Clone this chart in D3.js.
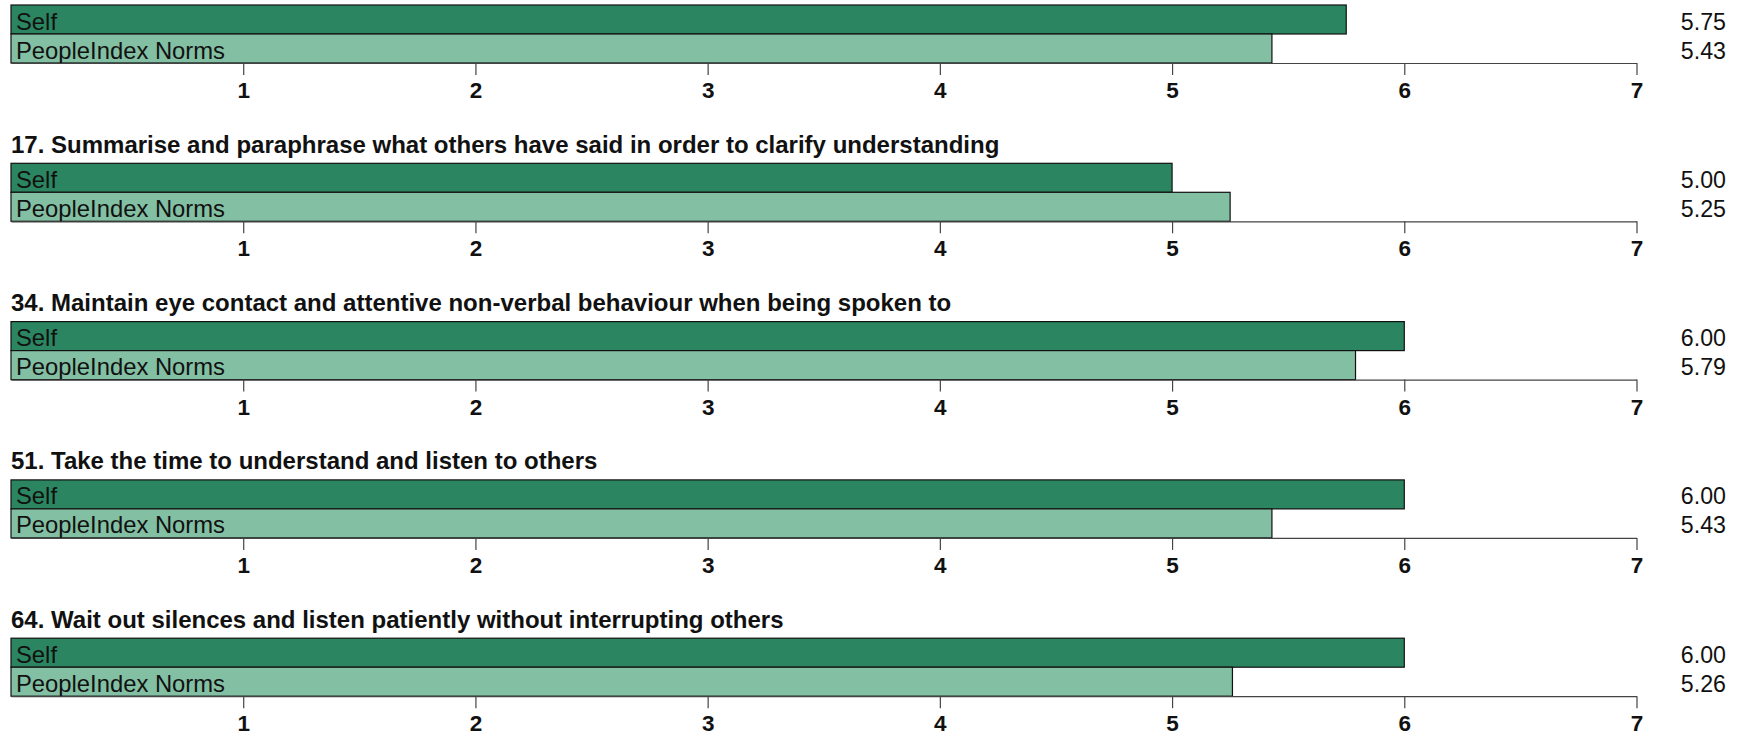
<!DOCTYPE html>
<html>
<head>
<meta charset="utf-8">
<script src="https://cdn.jsdelivr.net/npm/d3@7"></script>
<style>
  html, body { margin: 0; padding: 0; background: #fff; }
  svg { display: block; }
  text { font-family: "Liberation Sans", Arial, Helvetica, sans-serif; }
</style>
</head>
<body>
<svg id="chart" width="1744" height="737"></svg>
<script>
// Item questions (the first block's heading sits above the visible area)
const questions = [
  null,
  "17. Summarise and paraphrase what others have said in order to clarify understanding",
  "34. Maintain eye contact and attentive non-verbal behaviour when being spoken to",
  "51. Take the time to understand and listen to others",
  "64. Wait out silences and listen patiently without interrupting others"
];
const seriesNames = ["Self", "PeopleIndex Norms"];
const selfScores  = [5.75, 5.00, 6.00, 6.00, 6.00];
const normScores  = [5.43, 5.25, 5.79, 5.43, 5.26];
const tickValues  = [1, 2, 3, 4, 5, 6, 7];

const colors = { "Self": "#2b8560", "PeopleIndex Norms": "#82bfa3" };

const svg = d3.select("#chart");

const x = d3.scaleLinear().domain([0, 7]).range([11, 1636.5]);
const panelY = d3.scaleLinear().domain([0, 1]).range([5, 163.3]);
const band = d3.scaleBand().domain(seriesNames).range([0, 58]).padding(0);

const data = questions.map((q, i) => ({
  title: q,
  rows: [
    { name: "Self", value: selfScores[i] },
    { name: "PeopleIndex Norms", value: normScores[i] }
  ]
}));

const panels = svg.selectAll("g.panel")
  .data(data)
  .join("g")
  .attr("class", "panel")
  .attr("transform", (d, i) => `translate(0,${panelY(i)})`);

// Question heading
panels.filter(d => d.title)
  .append("text")
  .attr("x", 11)
  .attr("y", -10.5)
  .attr("font-size", 24)
  .attr("font-weight", "bold")
  .attr("fill", "#111")
  .text(d => d.title);

// Bars
panels.selectAll("rect.bar")
  .data(d => d.rows)
  .join("rect")
  .attr("class", "bar")
  .attr("x", x(0))
  .attr("y", r => band(r.name))
  .attr("width", r => x(r.value) - x(0))
  .attr("height", band.bandwidth())
  .attr("fill", r => colors[r.name])
  .attr("stroke", "#111")
  .attr("stroke-width", 1.2);

// Series name inside each bar
panels.selectAll("text.series")
  .data(d => d.rows)
  .join("text")
  .attr("class", "series")
  .attr("x", 16)
  .attr("y", r => band(r.name) + band.bandwidth() - 4.5)
  .attr("font-size", 23.8)
  .attr("fill", "#111")
  .text(r => r.name);

// Score at the right margin
panels.selectAll("text.score")
  .data(d => d.rows)
  .join("text")
  .attr("class", "score")
  .attr("x", 1726)
  .attr("y", r => band(r.name) + band.bandwidth() - 4.5)
  .attr("text-anchor", "end")
  .attr("font-size", 23.2)
  .attr("fill", "#111")
  .text(r => r.value.toFixed(2));

// Scale axis under each pair of bars
const axis = d3.axisBottom(x)
  .tickValues(tickValues)
  .tickSize(12)
  .tickSizeOuter(0)
  .tickPadding(7)
  .tickFormat(d3.format("d"));

panels.append("g")
  .attr("class", "axis")
  .attr("transform", `translate(0,${band.range()[1]})`)
  .call(axis)
  .call(g => g.select(".domain").attr("stroke", "#444").attr("stroke-width", 1.2))
  .call(g => g.selectAll(".tick line").attr("stroke", "#444").attr("stroke-width", 1.2))
  .call(g => g.selectAll(".tick text")
    .attr("font-family", "\"Liberation Sans\", Arial, sans-serif")
    .attr("font-size", 22.5)
    .attr("font-weight", "bold")
    .attr("fill", "#111"));
</script>
</body>
</html>
